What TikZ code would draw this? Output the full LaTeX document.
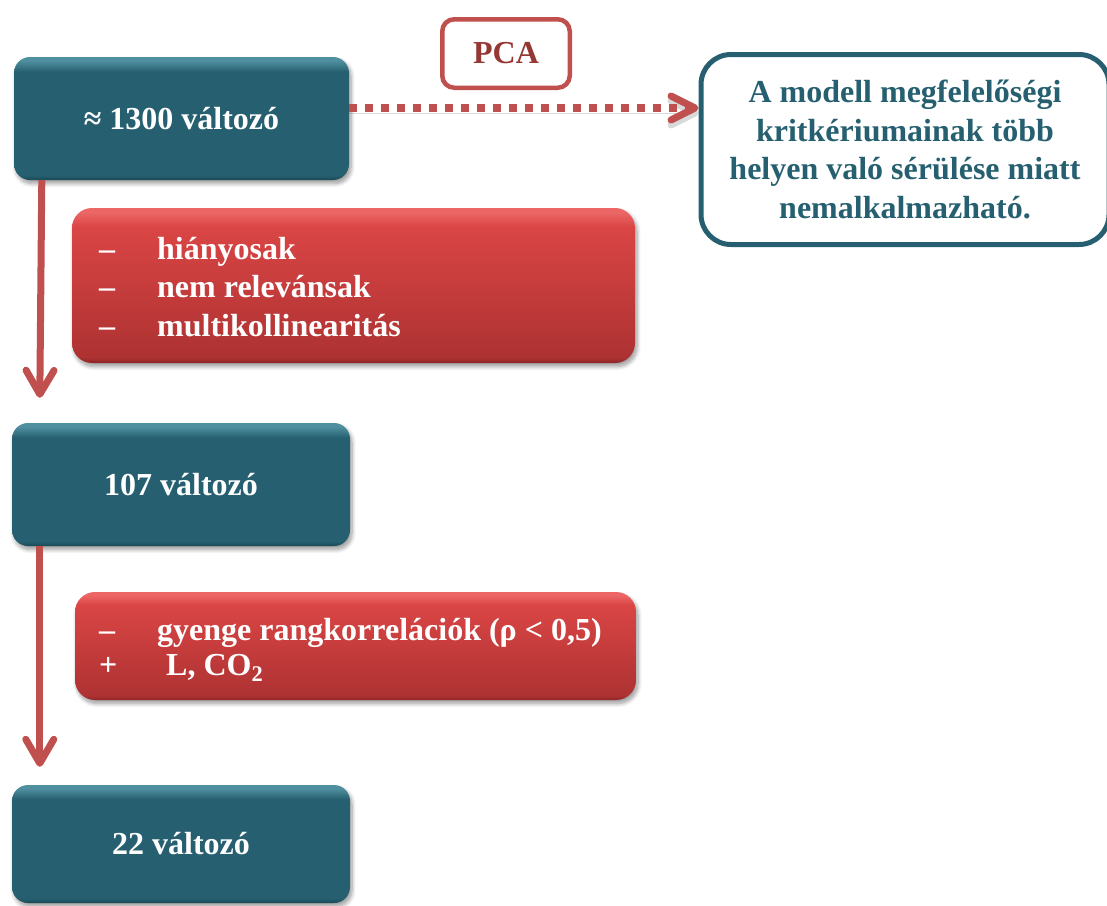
\documentclass[tikz,border=0pt]{standalone}
\usepackage{fontspec}
\setmainfont{Liberation Serif}
\usetikzlibrary{arrows.meta,shadows.blur}

\definecolor{tealmain}{HTML}{266070}
\definecolor{tealdark}{HTML}{1B4856}
\definecolor{teallight}{HTML}{4F8F9F}
\definecolor{redtop}{HTML}{DA4545}
\definecolor{redbot}{HTML}{AE3232}
\definecolor{reddark}{HTML}{8E2626}
\definecolor{redhi}{HTML}{EC6666}
\definecolor{arrowred}{HTML}{C0504D}
\definecolor{pcatext}{HTML}{953735}

% bevelled fills: the path is mapped to the 25bp..75bp band
\pgfdeclareverticalshading{tealbevel}{100bp}{color(0bp)=(tealdark); color(25bp)=(tealdark);
  color(27bp)=(tealmain); color(69bp)=(tealmain); color(73.5bp)=(teallight); color(100bp)=(teallight)}
\pgfdeclareverticalshading{redbevel}{100bp}{color(0bp)=(reddark); color(25bp)=(reddark);
  color(27bp)=(redbot); color(69bp)=(redtop); color(73.5bp)=(redhi); color(100bp)=(redhi)}

\newcommand{\bodyfont}{\fontsize{32}{38.4}\selectfont\bfseries}
\newcommand{\itemlead}[1]{\makebox[58pt][l]{#1}}

\tikzset{
  softshadow/.style={blur shadow={shadow xshift=2pt, shadow yshift=-3.5pt,
      shadow blur radius=4pt, shadow blur steps=8, shadow opacity=40}},
  stagebox/.style={shade, shading=tealbevel, rounded corners=16pt, softshadow,
      text=white, font=\bodyfont, inner sep=0pt},
  filterbox/.style={shade, shading=redbevel, rounded corners=20pt, softshadow, inner sep=0pt},
  filtertext/.style={text=white, font=\bodyfont, align=left, anchor=west, inner sep=0pt},
  infobox/.style={draw=tealmain, line width=5pt, fill=white, rounded corners=30pt,
      text=tealmain, font=\bodyfont, align=center},
  tagbox/.style={draw=arrowred, line width=4.5pt, fill=white, rounded corners=12pt,
      text=pcatext, font=\bodyfont},
  flow/.style={draw=arrowred, line width=7pt,
      -{Straight Barb[round, length=24pt, width=28pt]}},
  dotflow/.style={draw=arrowred, line width=8pt, dash pattern=on 8pt off 8pt,
      -{Straight Barb[round, length=24pt, width=24pt, line width=7pt]},
      preaction={draw=black, opacity=0.15, transform canvas={yshift=-5pt}}}
}

\begin{document}
\begin{tikzpicture}[x=1pt, y=-1pt]
  \useasboundingbox (0,0) rectangle (1107,905);
  \clip (0,0) rectangle (1107,905);

  % stages of the variable selection
  \node[stagebox, minimum width=335pt, minimum height=123pt] (v1300) at (181.5,118.5) {≈ 1300 változó};
  \node[stagebox, minimum width=338pt, minimum height=123pt] (v107) at (181,484.5) {107 változó};
  \node[stagebox, minimum width=338pt, minimum height=118pt] (v22) at (181,844) {22 változó};

  % filtering criteria
  \node[filterbox, minimum width=563pt, minimum height=155pt] (f1) at (353.5,285.5) {};
  \node[filtertext] (f1t) at (99,287)
    {\itemlead{–}hiányosak\\ \itemlead{–}nem relevánsak\\ \itemlead{–}multikollinearitás};
  \node[filterbox, minimum width=561pt, minimum height=108pt] (f2) at (355.5,646) {};
  \node[filtertext] (f2t) at (99,650)
    {\itemlead{–}gyenge rangkorrelációk (ρ < 0,5)\\[-3pt] \itemlead{+}\hspace{9pt}L, CO\textsubscript{2}};

  % PCA branch
  \node[tagbox, minimum width=127.5pt, minimum height=68.5pt] (pca) at (506,53.5) {PCA};
  \node[infobox, minimum width=408pt, minimum height=190pt] (crit) at (905,149.5)
    {A modell megfelelőségi\\kritkériumainak több\\helyen való sérülése miatt\\nemalkalmazható.};

  % connectors
  \draw[flow] ([xshift=28pt]v1300.south west) -- ([xshift=28pt,yshift=25pt]v107.north west);
  \draw[flow] ([xshift=28pt]v107.south west) -- ([xshift=28pt,yshift=18pt]v22.north west);
  \draw[dotflow] ([yshift=10.5pt]v1300.east) -- ([yshift=10.5pt]v1300.east -| crit.west);
\end{tikzpicture}
\end{document}
